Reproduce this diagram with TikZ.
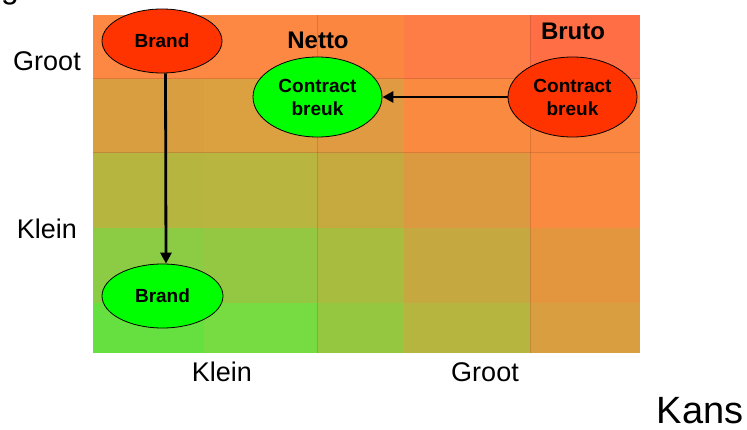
\documentclass[tikz,border=0pt]{standalone}
\usepackage{fontspec}
\setmainfont{Liberation Sans}
\usepackage{xcolor}
\usepackage{tikz}
\usetikzlibrary{shapes.geometric, arrows.meta}

\definecolor{brandred}{HTML}{FF3300}
\definecolor{safegreen}{HTML}{00FF00}

\tikzset{
  riskbubble/.style={ellipse, draw=black, line width=0.8pt, inner sep=0pt,
    align=center, font=\fontsize{19}{23}\selectfont\bfseries},
  axislabel/.style={inner sep=0pt, font=\fontsize{27}{30}\selectfont},
  headlabel/.style={inner sep=0pt, font=\fontsize{24}{28}\selectfont\bfseries},
  gridline/.style={draw=black, draw opacity=0.12, line width=1pt},
  shiftarrow/.style={line width=2.8pt, -{Triangle[length=11pt,width=11pt]}}
}

\begin{document}
\begin{tikzpicture}[x=1pt, y=-1pt]
        \useasboundingbox (0,0) rectangle (747,430);

        % cut-off title
        \node[anchor=base west, inner sep=0pt, font=\fontsize{32}{36}\selectfont] (title) at (1,-1.5) {g};

        % Matrix cells, top row first
        \foreach \xa/\xb/\hex in {93/204/FC8843, 204/317/FC8843, 317/404/FB8640, 404/530/FE7C45, 530/640/FF6E45}
          {\definecolor{cell}{HTML}{\hex}\fill[cell] (\xa,15) rectangle (\xb,79);}
        \foreach \xa/\xb/\hex in {93/204/D99E40, 204/317/DBA040, 317/404/DF9A42, 404/530/FA8A40, 530/640/FB8640}
          {\definecolor{cell}{HTML}{\hex}\fill[cell] (\xa,79) rectangle (\xb,153);}
        \foreach \xa/\xb/\hex in {93/204/B5B540, 204/317/B8B540, 317/404/C6AA40, 404/530/DC9A40, 530/640/FA8A40}
          {\definecolor{cell}{HTML}{\hex}\fill[cell] (\xa,153) rectangle (\xb,228);}
        \foreach \xa/\xb/\hex in {93/204/8CCC45, 204/317/95C842, 317/404/A8BC40, 404/530/C5A840, 530/640/E4963F}
          {\definecolor{cell}{HTML}{\hex}\fill[cell] (\xa,228) rectangle (\xb,303);}
        \foreach \xa/\xb/\hex in {93/204/66E040, 204/317/77DC42, 317/404/95C840, 404/530/B5B540, 530/640/D99E40}
          {\definecolor{cell}{HTML}{\hex}\fill[cell] (\xa,303) rectangle (\xb,353);}

        % quadrant lines
        \draw[gridline] (317,15) -- (317,353);
        \draw[gridline] (530,15) -- (530,353);
        \draw[gridline] (93,79) -- (640,79);
        \draw[gridline] (93,153) -- (640,153);

        % Axis labels
        \node[axislabel] (grootY) at (47,61) {Groot};
        \node[axislabel] (kleinY) at (47,229) {Klein};
        \node[axislabel] (kleinX) at (222,372) {Klein};
        \node[axislabel] (grootX) at (485,372) {Groot};
        \node[inner sep=0pt, font=\fontsize{38}{42}\selectfont] (kans) at (700,411) {Kans};

        \node[headlabel] (netto) at (318,40) {Netto};
        \node[headlabel] (bruto) at (573,31) {Bruto};

        % Risks
        \node[riskbubble, fill=brandred, minimum width=120pt, minimum height=64pt] (brandBruto) at (162,41) {Brand};
        \node[riskbubble, fill=safegreen, minimum width=121pt, minimum height=64pt] (brandNetto) at (162.5,296) {Brand};
        \node[riskbubble, fill=safegreen, minimum width=129pt, minimum height=80pt] (breukNetto) at (317.5,97) {Contract\\breuk};
        \node[riskbubble, fill=brandred, minimum width=129pt, minimum height=80pt] (breukBruto) at (572.5,97) {Contract\\breuk};

        \draw[shiftarrow] ([xshift=3.5pt]brandBruto.south) -- ([xshift=3.5pt]brandNetto.north);
        \draw[shiftarrow] (breukBruto) -- (breukNetto);
      \end{tikzpicture}
\end{document}
